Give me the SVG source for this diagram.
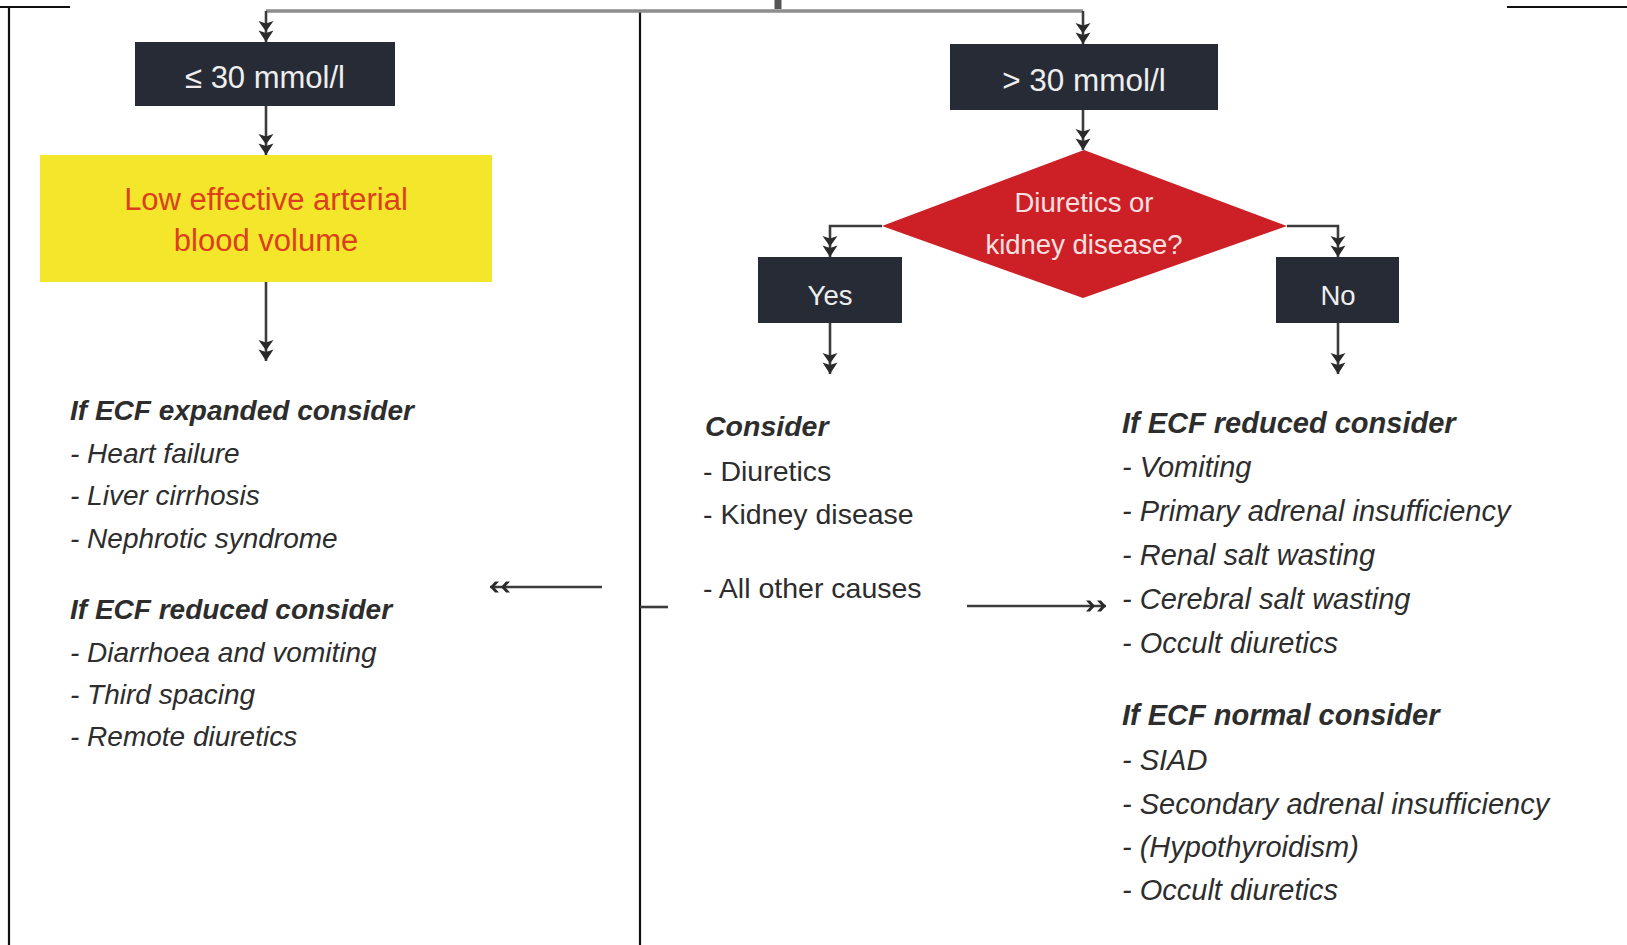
<svg xmlns="http://www.w3.org/2000/svg" width="1627" height="945" viewBox="0 0 1627 945">
  <defs>
    <style>
      .frame { stroke: #111; stroke-width: 2.2; fill: none; }
      .wire { stroke: #3c3c3c; stroke-width: 2.6; fill: none; }
      .wire-top { stroke: #8d8d8d; stroke-width: 3.5; fill: none; }
      .box { fill: #272b36; }
      .box-label { font-family: "Liberation Sans", Arial, sans-serif; fill: #eeeeee; text-anchor: middle; }
      .yellow { fill: #f3e62b; }
      .yellow-label { font-family: "Liberation Sans", Arial, sans-serif; font-size: 31px; fill: #dc3f1e; text-anchor: middle; }
      .diamond { fill: #cd1f26; }
      .diamond-label { font-family: "Liberation Sans", Arial, sans-serif; font-size: 27.5px; fill: #f6e0e0; text-anchor: middle; }
      .head { font-family: "Liberation Sans", Arial, sans-serif; font-weight: bold; font-style: italic; fill: #2d2d2d; }
      .item { font-family: "Liberation Sans", Arial, sans-serif; font-style: italic; fill: #2d2d2d; }
      .plain { font-family: "Liberation Sans", Arial, sans-serif; fill: #2d2d2d; }
    </style>
    <!-- double filled chevron, tip at the line end -->
    <marker id="dbl" viewBox="0 -8 21 16" refX="21" refY="0" markerWidth="21" markerHeight="16" markerUnits="userSpaceOnUse" orient="auto">
      <path d="M0,-7.5 L10.5,0 L0,7.5 L2.5,0 Z M9.5,-7.5 L21,0 L9.5,7.5 L12,0 Z" fill="#2a2a2a"/>
    </marker>
    <!-- bold guillemet head for the side arrows -->
    <marker id="guil" viewBox="0 -6 20 12" refX="20" refY="0" markerWidth="20" markerHeight="12" markerUnits="userSpaceOnUse" orient="auto">
      <path d="M0,-5.5 L4,-5.5 L9,0 L4,5.5 L0,5.5 L5,0 Z M11,-5.5 L15,-5.5 L20,0 L15,5.5 L11,5.5 L16,0 Z" fill="#2a2a2a"/>
    </marker>
  </defs>

  <rect x="0" y="0" width="1627" height="945" fill="#ffffff"/>

  <!-- page frame -->
  <g id="frame">
    <path class="frame" d="M0,7 H70 M9,7 V945"/>
    <path class="frame" d="M1507,7 H1627"/>
    <path class="frame" d="M640,11 V945"/>
  </g>

  <!-- connectors -->
  <g id="connectors">
    <path d="M778,0 V9" stroke="#555" stroke-width="7" fill="none"/>
    <path class="wire-top" d="M266,11 H1083"/>
    <path class="wire" d="M266,11 V42" marker-end="url(#dbl)"/>
    <path class="wire" d="M1083,11 V44" marker-end="url(#dbl)"/>
    <path class="wire" d="M266,106 V155" marker-end="url(#dbl)"/>
    <path class="wire" d="M1083,110 V150" marker-end="url(#dbl)"/>
    <path class="wire" d="M266,282 V361" marker-end="url(#dbl)"/>
    <path class="wire" d="M882,226 H830 V257" marker-end="url(#dbl)"/>
    <path class="wire" d="M1287,226 H1338 V257" marker-end="url(#dbl)"/>
    <path class="wire" d="M830,323 V374" marker-end="url(#dbl)"/>
    <path class="wire" d="M1338,323 V374" marker-end="url(#dbl)"/>
    <path class="wire" d="M602,587 H490" marker-end="url(#guil)"/>
    <path class="wire" d="M640,607 H668"/>
    <path class="wire" d="M967,606 H1106" marker-end="url(#guil)"/>
  </g>

  <!-- Urine sodium ≤ 30 -->
  <g id="low-sodium">
    <rect class="box" x="135" y="42" width="260" height="64"/>
    <text class="box-label" x="265" y="88" font-size="31">≤ 30 mmol/l</text>
  </g>

  <!-- Urine sodium > 30 -->
  <g id="high-sodium">
    <rect class="box" x="950" y="44" width="268" height="66"/>
    <text class="box-label" x="1084" y="91" font-size="31.5">&gt; 30 mmol/l</text>
  </g>

  <g id="low-volume">
    <rect class="yellow" x="40" y="155" width="452" height="127"/>
    <text class="yellow-label" x="266" y="210">Low effective arterial</text>
    <text class="yellow-label" x="266" y="251">blood volume</text>
  </g>

  <g id="decision">
    <polygon class="diamond" points="1084,150 1287,226 1083,298 882,226"/>
    <text class="diamond-label" x="1084" y="212">Diuretics or</text>
    <text class="diamond-label" x="1084" y="254">kidney disease?</text>
  </g>

  <g id="yes">
    <rect class="box" x="758" y="257" width="144" height="66"/>
    <text class="box-label" x="830" y="305" font-size="27.5">Yes</text>
  </g>

  <g id="no">
    <rect class="box" x="1276" y="257" width="123" height="66"/>
    <text class="box-label" x="1338" y="305" font-size="27.5">No</text>
  </g>

  <!-- causes under the low-sodium branch -->
  <g id="low-causes" font-size="28">
    <text class="head" x="70" y="420">If ECF expanded consider</text>
    <text class="item" x="70" y="463">- Heart failure</text>
    <text class="item" x="70" y="505">- Liver cirrhosis</text>
    <text class="item" x="70" y="548">- Nephrotic syndrome</text>
    <text class="head" x="70" y="619">If ECF reduced consider</text>
    <text class="item" x="70" y="662">- Diarrhoea and vomiting</text>
    <text class="item" x="70" y="704">- Third spacing</text>
    <text class="item" x="70" y="746">- Remote diuretics</text>
  </g>

  <!-- causes under Yes -->
  <g id="yes-causes" font-size="28.5">
    <text class="head" x="705" y="436">Consider</text>
    <text class="plain" x="703" y="481">- Diuretics</text>
    <text class="plain" x="703" y="524">- Kidney disease</text>
    <text class="plain" x="703" y="598">- All other causes</text>
  </g>

  <!-- causes under No -->
  <g id="no-causes" font-size="29">
    <text class="head" x="1122" y="433">If ECF reduced consider</text>
    <text class="item" x="1122" y="477">- Vomiting</text>
    <text class="item" x="1122" y="521">- Primary adrenal insufficiency</text>
    <text class="item" x="1122" y="565">- Renal salt wasting</text>
    <text class="item" x="1122" y="609">- Cerebral salt wasting</text>
    <text class="item" x="1122" y="653">- Occult diuretics</text>
    <text class="head" x="1122" y="725">If ECF normal consider</text>
    <text class="item" x="1122" y="770">- SIAD</text>
    <text class="item" x="1122" y="814">- Secondary adrenal insufficiency</text>
    <text class="item" x="1122" y="857">- (Hypothyroidism)</text>
    <text class="item" x="1122" y="900">- Occult diuretics</text>
  </g>
</svg>
